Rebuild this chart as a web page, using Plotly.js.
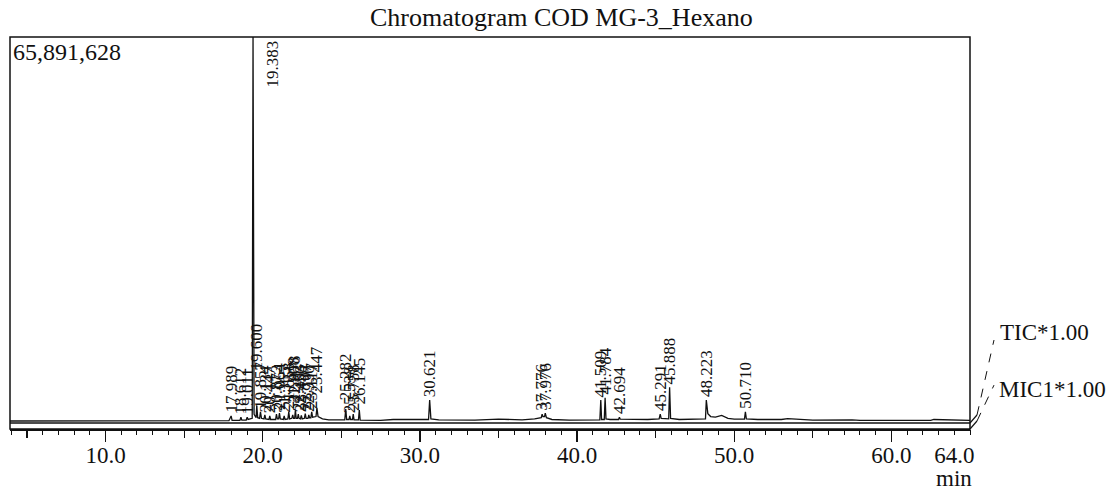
<!DOCTYPE html>
<html><head><meta charset="utf-8">
<script src="https://cdn.plot.ly/plotly-3.0.1.min.js"></script>
<style>html,body{margin:0;padding:0;background:#fff}#chart{width:1113px;height:495px}</style>
</head><body><div id="chart"></div>
<script>
// ---- data (signal in millions of counts) ----
const chartTitle = "Chromatogram COD MG-3_Hexano";
const fullScale = 65.891628;
const fullScaleText = "65,891,628";
const xUnit = "min";
const traceNames = ["TIC*1.00", "MIC1*1.00"];

const traceTime = [3.92, 17.85, 17.989, 18.05, 18.55, 18.612, 18.67, 18.95, 19.011, 19.07, 19.33, 19.383, 19.45, 19.58, 19.62, 19.68,
  19.80, 19.857, 19.92, 20.08, 20.134, 20.19, 20.40, 20.447, 20.50, 20.82, 20.873, 20.93, 21.01, 21.064, 21.12,
  21.31, 21.365, 21.42, 21.60, 21.658, 21.71, 21.85, 21.908, 21.96, 22.03, 22.078, 22.13, 22.21, 22.263, 22.31,
  22.40, 22.456, 22.51, 22.65, 22.707, 22.76, 22.88, 22.930, 22.98, 23.06, 23.117, 23.17, 23.39, 23.447, 23.52,
  23.80, 24.20, 24.60, 25.22, 25.282, 25.34, 25.49, 25.538, 25.59, 25.71, 25.758, 25.81, 26.09, 26.145, 26.20,
  26.60, 27.50, 28.30, 29.50, 30.55, 30.621, 30.70, 31.20, 33.50, 35.00, 36.50, 37.30, 37.72, 37.776, 37.83,
  37.93, 37.976, 38.05, 38.40, 39.50, 40.50, 41.45, 41.509, 41.56, 41.73, 41.784, 41.84, 42.10, 42.64, 42.694,
  42.75, 43.50, 44.50, 45.22, 45.291, 45.35, 45.83, 45.888, 45.95, 46.50, 47.50, 48.17, 48.223, 48.32, 48.50,
  48.80, 49.20, 49.60, 50.00, 50.65, 50.710, 50.77, 51.50, 53.00, 53.40, 55.00, 57.50, 58.00, 60.00, 62.50,
  62.70, 65.00];
const traceSignal = [0.34, 0.40, 1.2, 0.45, 0.45, 1.0, 0.5, 0.5, 1.0, 0.6, 0.8, 65.891628, 1.5, 0.9, 3.0, 0.9,
  0.8, 1.9, 0.8, 0.7, 1.4, 0.7, 0.6, 1.2, 0.6, 0.6, 1.5, 0.7, 0.7, 1.7, 0.7,
  0.6, 1.2, 0.6, 0.7, 1.9, 0.7, 0.8, 1.4, 0.8, 0.8, 2.2, 0.8, 0.8, 1.5, 0.8,
  0.7, 1.3, 0.7, 0.8, 1.6, 0.8, 0.8, 1.4, 0.9, 0.9, 1.9, 1.0, 1.1, 2.6, 1.1,
  0.7, 0.55, 0.5, 0.55, 2.4, 0.6, 0.6, 1.2, 0.6, 0.6, 1.5, 0.55, 0.55, 2.2, 0.5,
  0.5, 0.45, 0.6, 0.55, 0.6, 3.9, 0.7, 0.55, 0.5, 0.65, 0.55, 0.7, 0.9, 1.5, 1.1,
  1.1, 1.7, 0.9, 0.6, 0.5, 0.5, 0.55, 3.9, 0.6, 0.6, 4.3, 0.7, 0.6, 0.6, 1.0,
  0.65, 0.6, 0.6, 0.7, 1.5, 0.8, 0.7, 6.1, 0.8, 0.6, 0.6, 0.7, 3.9, 1.6, 1.1,
  1.0, 1.3, 0.8, 0.65, 0.65, 1.9, 0.7, 0.6, 0.6, 0.75, 0.5, 0.55, 0.45, 0.45, 0.45,
  0.6, 0.45];

const peakTimes = [17.989, 18.612, 19.011, 19.383, 19.62, 19.857, 20.134, 20.447, 20.873, 21.064, 21.365, 21.658,
  21.908, 22.078, 22.263, 22.456, 22.707, 22.930, 23.117, 23.447, 25.282, 25.538, 25.758, 26.145, 30.621,
  37.776, 37.976, 41.509, 41.784, 42.694, 45.291, 45.888, 48.223, 50.710];
const peakApex = [1.2, 1.0, 1.0, 65.891628, 8.5, 1.9, 1.4, 1.2, 1.5, 1.7, 1.2, 1.9,
  2.8, 3.0, 1.5, 1.3, 1.6, 1.4, 1.9, 4.6, 3.4, 1.2, 1.5, 2.6, 3.9,
  1.5, 1.7, 3.9, 4.3, 1.0, 1.5, 6.1, 3.9, 1.9];
const peakLabels = ["17.989", "18.612", "19.011", "19.383", "19.600", "19.857", "20.134", "20.447", "20.873", "21.064", "21.365", "21.658",
  "21.908", "22.078", "22.263", "22.456", "22.707", "22.930", "23.117", "23.447", "25.282", "25.538", "25.758", "26.145", "30.621",
  "37.776", "37.976", "41.509", "41.784", "42.694", "45.291", "45.888", "48.223", "50.710"];

const tickVals = [10, 20, 30, 40, 50, 60, 64];
const tickText = ["10.0", "20.0", "30.0", "40.0", "50.0", "60.0", "64.0"];
const majorTickVals = [10, 20, 30, 40, 50, 60];
const midTickVals = [5, 15, 25, 35, 45, 55];
const xRange = [3.92, 65.0];
const yRange = [-1.024, 65.891628];

// ---- drawing ----
const serif = "Liberation Serif, Times New Roman, serif";
const trace = {x: traceTime, y: traceSignal, type: "scatter", mode: "lines",
  line: {color: "#111", width: 1.3}, hoverinfo: "x+y", showlegend: false};

const ann = [];
peakTimes.forEach((t, i) => {
  const top = peakApex[i] >= fullScale;
  ann.push({x: t, y: top ? fullScale : peakApex[i], xref: "x", yref: "y", text: peakLabels[i],
    showarrow: false, textangle: -90, xanchor: "center", yanchor: top ? "top" : "bottom",
    xshift: top ? 19 : 0, yshift: top ? -2 : 1,
    font: {family: serif, size: 17, color: "#111"}});
});
ann.push({x: 0, y: 1, xref: "paper", yref: "paper", text: fullScaleText, showarrow: false,
  xanchor: "left", yanchor: "top", xshift: 1, yshift: 0, font: {family: serif, size: 24, color: "#111"}});
ann.push({x: 0.574, y: 1, xref: "paper", yref: "paper", text: chartTitle, showarrow: false,
  xanchor: "center", yanchor: "middle", yshift: 20, font: {family: serif, size: 26, color: "#111"}});
ann.push({x: 64, y: 0, xref: "x", yref: "paper", text: xUnit, showarrow: false,
  xanchor: "center", yanchor: "middle", yshift: -49, font: {family: serif, size: 23, color: "#111"}});
ann.push({x: 1.029, y: 0.245, xref: "paper", yref: "paper", text: traceNames[0], showarrow: false,
  xanchor: "left", yanchor: "middle", font: {family: serif, size: 23, color: "#111"}});
ann.push({x: 1.028, y: 0.0995, xref: "paper", yref: "paper", text: traceNames[1], showarrow: false,
  xanchor: "left", yanchor: "middle", font: {family: serif, size: 23, color: "#111"}});

const shapes = [
  {type: "rect", xref: "paper", yref: "paper", x0: 0, x1: 1, y0: 0, y1: 1, line: {color: "#111", width: 1.5}},
  {type: "line", xref: "paper", yref: "y", x0: 0, x1: 1, y0: 0, y1: 0, line: {color: "#111", width: 1.5}},
  {type: "line", xref: "paper", yref: "paper", x0: 1, y0: 0, x1: 1.0073, y1: 0.0204, line: {color: "#111", width: 1.2}},
  {type: "line", xref: "paper", yref: "paper", x0: 1, y0: 0.0153, x1: 1.0073, y1: 0.0357, line: {color: "#111", width: 1.2}},
  {type: "line", xref: "paper", yref: "paper", x0: 1.0073, y0: 0.0204, x1: 1.025, y1: 0.112, line: {color: "#111", width: 1, dash: "dash"}},
  {type: "line", xref: "paper", yref: "paper", x0: 1.0073, y0: 0.0357, x1: 1.025, y1: 0.227, line: {color: "#111", width: 1, dash: "dash"}}
];

const axBase = {range: xRange, showgrid: false, zeroline: false, fixedrange: true};
const layout = {
  width: 1113, height: 495,
  margin: {l: 10, r: 143, t: 37, b: 66},
  paper_bgcolor: "#fff", plot_bgcolor: "#fff",
  showlegend: false,
  xaxis: Object.assign({}, axBase, {tickmode: "array", tickvals: tickVals, ticktext: tickText, ticks: "",
    showline: true, linecolor: "#111", linewidth: 1.5, ticklabelstandoff: 5,
    tickfont: {family: serif, size: 23, color: "#111"}}),
  xaxis2: Object.assign({}, axBase, {overlaying: "x", anchor: "y", side: "bottom", tickmode: "array",
    tickvals: majorTickVals, ticks: "outside", ticklen: 12, tickwidth: 1.3, tickcolor: "#111", showticklabels: false,
    minor: {dtick: 1, tick0: 0, ticks: "outside", ticklen: 5, tickwidth: 1, tickcolor: "#111"}}),
  xaxis3: Object.assign({}, axBase, {overlaying: "x", anchor: "y", side: "bottom", tickmode: "array",
    tickvals: midTickVals, ticks: "outside", ticklen: 8, tickwidth: 1.1, tickcolor: "#111", showticklabels: false}),
  yaxis: {range: yRange, visible: false, fixedrange: true},
  annotations: ann,
  shapes: shapes
};
const t2 = {x: [xRange[0]], y: [0], xaxis: "x2", type: "scatter", mode: "none", hoverinfo: "skip", showlegend: false};
const t3 = {x: [xRange[0]], y: [0], xaxis: "x3", type: "scatter", mode: "none", hoverinfo: "skip", showlegend: false};
Plotly.newPlot("chart", [trace, t2, t3], layout, {displayModeBar: false, staticPlot: true});
</script></body></html>
